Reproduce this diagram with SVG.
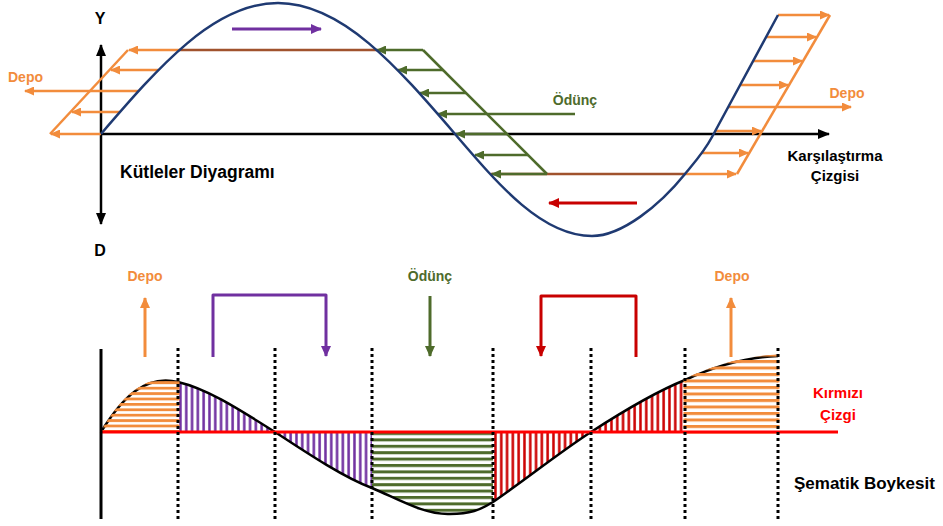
<svg xmlns="http://www.w3.org/2000/svg" width="943" height="526" viewBox="0 0 943 526">
<style>
text{font-family:"Liberation Sans",Arial,sans-serif;font-weight:bold}
.ax{stroke:#000;stroke-width:2.5;fill:none}
.or{stroke:#F28C3C;stroke-width:2.5;fill:none}
.gr{stroke:#4E6B2B;stroke-width:2.5;fill:none}
.br{stroke:#A0522D;stroke-width:2.5;fill:none}
.blue{stroke:#1F3A72;stroke-width:2.5;fill:none}
.dot{stroke:#000;stroke-width:3;stroke-dasharray:3 3;fill:none}
.crv{stroke:#000;stroke-width:2.5;fill:none}
.b3{stroke-width:3;fill:none;stroke-linejoin:round}
</style>
<defs>
<marker id="mK" markerUnits="userSpaceOnUse" markerWidth="12" markerHeight="10" refX="11" refY="5" orient="auto-start-reverse"><path d="M0,0 L12,5 L0,10 z" fill="#000"/></marker>
<marker id="mO" markerUnits="userSpaceOnUse" markerWidth="10" markerHeight="9" refX="9" refY="4.5" orient="auto"><path d="M0,0 L10,4.5 L0,9 z" fill="#F28C3C"/></marker>
<marker id="mG" markerUnits="userSpaceOnUse" markerWidth="10" markerHeight="9" refX="9" refY="4.5" orient="auto"><path d="M0,0 L10,4.5 L0,9 z" fill="#4E6B2B"/></marker>
<marker id="mP" markerUnits="userSpaceOnUse" markerWidth="11" markerHeight="10" refX="10" refY="5" orient="auto"><path d="M0,0 L11,5 L0,10 z" fill="#7030A0"/></marker>
<marker id="mR" markerUnits="userSpaceOnUse" markerWidth="11" markerHeight="10" refX="10" refY="5" orient="auto"><path d="M0,0 L11,5 L0,10 z" fill="#C80000"/></marker>
<marker id="mO2" markerUnits="userSpaceOnUse" markerWidth="11" markerHeight="10" refX="10" refY="5" orient="auto"><path d="M0,0 L11,5 L0,10 z" fill="#F28C3C"/></marker>
<marker id="mG2" markerUnits="userSpaceOnUse" markerWidth="11" markerHeight="10" refX="10" refY="5" orient="auto"><path d="M0,0 L11,5 L0,10 z" fill="#4E6B2B"/></marker>
<pattern id="pOrL" patternUnits="userSpaceOnUse" x="0" y="424.6" width="40" height="5.4"><rect x="0" y="0" width="40" height="2.8" fill="#F28C3C"/></pattern>
<pattern id="pOrR" patternUnits="userSpaceOnUse" x="0" y="425" width="40" height="6.5"><rect x="0" y="0" width="40" height="3" fill="#F28C3C"/></pattern>
<pattern id="pGr" patternUnits="userSpaceOnUse" x="0" y="432" width="40" height="6.4"><rect x="0" y="0" width="40" height="3" fill="#4E6B2B"/></pattern>
<pattern id="pPu" patternUnits="userSpaceOnUse" x="178" y="0" width="5.8" height="40"><rect x="1.2" y="0" width="2.5" height="40" fill="#7030A0"/></pattern>
<pattern id="pRd" patternUnits="userSpaceOnUse" x="493" y="0" width="5.8" height="40"><rect x="1.2" y="0" width="2.5" height="40" fill="#CC0000"/></pattern>
</defs>

<!-- ===== Top: Kütleler Diyagramı ===== -->
<g id="top-axes">
<path class="ax" d="M101,45 V224" marker-start="url(#mK)" marker-end="url(#mK)"/>
<path class="ax" d="M101,134 H829" marker-end="url(#mK)"/>
</g>

<g id="connectors">
<path class="br" d="M179,50 H377"/>
<path class="br" d="M491,174 H685"/>
<path class="or" d="M128,50 L50,134"/>
<path class="or" d="M179,50 H129" marker-end="url(#mO)"/>
<path class="or" d="M158,70 H111" marker-end="url(#mO)"/>
<path class="or" d="M138,91 H25" marker-end="url(#mO)"/>
<path class="or" d="M120,112 H72" marker-end="url(#mO)"/>
<path class="or" d="M101,134 H51" marker-end="url(#mO)"/>
<path class="gr" d="M423,50 L547,174"/>
<path class="gr" d="M423,50 H377" marker-end="url(#mG)"/>
<path class="gr" d="M443,70 H398" marker-end="url(#mG)"/>
<path class="gr" d="M466,93 H420" marker-end="url(#mG)"/>
<path class="gr" d="M575,114 H438" marker-end="url(#mG)"/>
<path class="gr" d="M507,134 H456" marker-end="url(#mG)"/>
<path class="gr" d="M528,155 H475" marker-end="url(#mG)"/>
<path class="gr" d="M547,174 H492" marker-end="url(#mG)"/>
<path class="or" d="M830,15 L737,174"/>
<path class="or" d="M778,15 H829" marker-end="url(#mO)"/>
<path class="or" d="M766,37 H816" marker-end="url(#mO)"/>
<path class="or" d="M753,61 H802" marker-end="url(#mO)"/>
<path class="or" d="M740,85 H788" marker-end="url(#mO)"/>
<path class="or" d="M728,107 H851" marker-end="url(#mO)"/>
<path class="or" d="M715,131 H761" marker-end="url(#mO)"/>
<path class="or" d="M701,153 H748" marker-end="url(#mO)"/>
<path class="or" d="M685,174 H736" marker-end="url(#mO)"/>
<path class="b3" stroke="#7030A0" d="M232,29 H321" marker-end="url(#mP)"/>
<path class="b3" stroke="#C80000" d="M637,203 H549" marker-end="url(#mR)"/>
<path class="b3" stroke="#F28C3C" d="M145,357 V298" marker-end="url(#mO2)"/>
<path class="b3" stroke="#7030A0" d="M213,357 V295 H326 V356" marker-end="url(#mP)"/>
<path class="b3" stroke="#4E6B2B" d="M430,296 V356" marker-end="url(#mG2)"/>
<path class="b3" stroke="#C80000" d="M636,357 V296 H541 V356" marker-end="url(#mR)"/>
<path class="b3" stroke="#F28C3C" d="M731,357 V298" marker-end="url(#mO2)"/>
</g>

<g id="mass-curve">
<path class="blue" d="M101,134 C158.7,66.9 214,3 278,3 C342,3 397.3,66.9 455,134 C499.7,186.3 542.4,236 592,236 C622,236 660,205 685,174 C694,163 704,152 712,137 L778,15"/>
</g>

<g id="top-labels">
<text x="100" y="24" font-size="16" text-anchor="middle">Y</text>
<text x="100" y="256" font-size="16" text-anchor="middle">D</text>
<text x="8" y="82" font-size="14" fill="#F28C3C">Depo</text>
<text x="575" y="105" font-size="14" fill="#4E6B2B" text-anchor="middle">Ödünç</text>
<text x="847" y="98" font-size="14" fill="#F28C3C" text-anchor="middle">Depo</text>
<text x="120" y="178" font-size="17.5">Kütleler Diyagramı</text>
<text x="835" y="161" font-size="15" text-anchor="middle">Karşılaştırma</text>
<text x="835" y="181" font-size="15" text-anchor="middle">Çizgisi</text>
</g>

<!-- ===== Bottom: Şematik Boykesit ===== -->
<g id="hatches">
<path fill="url(#pPu)" d="M178,432 L178,382 C208,389 240,410 275,432 Z"/>
<path fill="url(#pPu)" d="M275,432 C310,455 345,478 372,488 L372,432 Z"/>
<path fill="url(#pGr)" d="M372,432 L372,488 C400,500 425,515 450,514 C470,514 480,510 493,502 L493,432 Z"/>
<path fill="url(#pRd)" d="M493,432 L493,502 C525,480 560,452 591,432 Z"/>
<path fill="url(#pRd)" d="M591,432 C625,410 655,392 685,380 L685,432 Z"/>
</g>

<g id="profile">
<path class="crv" d="M101,432 C122,398 145,374 178,382 C208,389 240,410 275,432 C310,455 345,478 372,488 C400,500 425,515 450,514 C470,514 480,510 493,502 C525,480 560,452 591,432 C625,410 655,392 685,380 C715,366 745,357 778,356"/>
</g>

<g id="storage-hatches">
<path fill="url(#pOrL)" stroke="url(#pOrL)" stroke-width="3" d="M102,432 C122,398 145,374 178,382 L178,432 Z"/>
<path fill="url(#pOrR)" stroke="url(#pOrR)" stroke-width="3" d="M685,432 L685,380 C715,366 745,357 778,356 L778,432 Z"/>
</g>

<g id="red-line">
<path d="M101,432 H838" stroke="#FF0000" stroke-width="3" fill="none"/>
</g>

<g id="dividers">
<path class="dot" d="M178,348 V522 M275,348 V522 M372,348 V522 M493,348 V522 M591,348 V522 M685,348 V522 M778,348 V522"/>
<path d="M101,349 V519" stroke="#000" stroke-width="3" fill="none"/>
</g>

<g id="bottom-labels">
<text x="145" y="281" font-size="14" fill="#F28C3C" text-anchor="middle">Depo</text>
<text x="430" y="281" font-size="14" fill="#4E6B2B" text-anchor="middle">Ödünç</text>
<text x="732" y="281" font-size="14" fill="#F28C3C" text-anchor="middle">Depo</text>
<text x="838" y="398" font-size="15" fill="#FF0000" text-anchor="middle">Kırmızı</text>
<text x="838" y="420" font-size="15" fill="#FF0000" text-anchor="middle">Çizgi</text>
<text x="794" y="489" font-size="17">Şematik Boykesit</text>
</g>
</svg>
